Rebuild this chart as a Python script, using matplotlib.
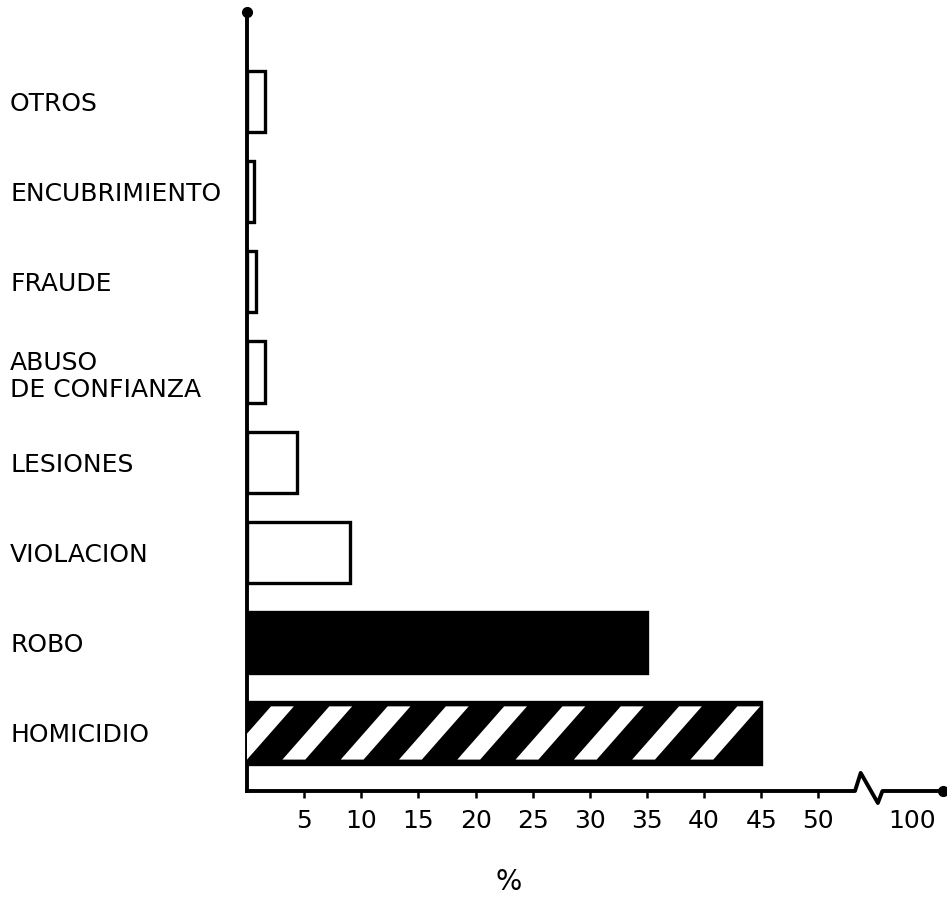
import matplotlib.pyplot as plt
from matplotlib.patches import Polygon

# categories from bottom to top
categories = ["HOMICIDIO", "ROBO", "VIOLACION", "LESIONES",
              "ABUSO\nDE CONFIANZA", "FRAUDE", "ENCUBRIMIENTO", "OTROS"]
percent = [45, 35, 9.0, 4.4, 1.6, 0.8, 0.6, 1.6]
fill = ["striped", "black", "white", "white", "white", "white", "white", "white"]

tick_values = [5, 10, 15, 20, 25, 30, 35, 40, 45, 50]
tick_labels = [str(v) for v in tick_values]
break_label = "100"

plt.rcParams['font.family'] = ['DejaVu Sans']

fig = plt.figure(figsize=(9.47, 8.97), dpi=100)
ax = fig.add_axes([247 / 947, (897 - 791) / 897, 696 / 947, 779 / 897])

xmax = 60.9
ymin, ymax = -0.643, 7.99
ax.set_xlim(0, xmax)
ax.set_ylim(ymin, ymax)

ypos = list(range(len(categories)))
bars = ax.barh(ypos, percent, height=0.68,
               color=["black" if f != "white" else "white" for f in fill],
               edgecolor="black", linewidth=2.4, zorder=2)

# white diagonal stripes on the HOMICIDIO bar, clipped to the bar
for bar, f in zip(bars, fill):
    if f != "striped":
        continue
    x0, y0 = bar.get_x(), bar.get_y()
    w, h = bar.get_width(), bar.get_height()
    inset = 0.045
    yb, yt = y0 + inset, y0 + h - inset
    period, shift, sw = 5.1, 4.1, 2.0
    s = x0 - 2.0
    while s + shift + sw < x0 + w:
        poly = Polygon([(s, yb), (s + sw, yb), (s + sw + shift, yt), (s + shift, yt)],
                       closed=True, facecolor="white", edgecolor="none", zorder=3)
        ax.add_patch(poly)
        poly.set_clip_path(bar)
        s += period

# axes
for side in ["top", "right", "bottom"]:
    ax.spines[side].set_visible(False)
ax.spines["left"].set_linewidth(2.8)
ax.plot(0, ymax, 'o', color="black", ms=7, clip_on=False, zorder=5)

# bottom axis with a break before 100
ax.plot([0, 53.2, 53.7, 55.2, 55.6, xmax],
        [ymin, ymin, ymin + 0.2, ymin - 0.133, ymin, ymin],
        color="black", lw=2.8, clip_on=False, solid_joinstyle="round", zorder=5)
ax.plot(xmax, ymin, 'o', color="black", ms=7, clip_on=False, zorder=5)

ax.set_xticks(tick_values + [58.2], labels=tick_labels + [break_label])
ax.tick_params(axis="x", direction="out", length=5, width=1.8, pad=8, labelsize=18)
ax.xaxis.get_major_ticks()[-1].tick1line.set_visible(False)

ax.set_yticks(ypos, labels=categories)
ax.tick_params(axis="y", length=0, pad=170.6, labelsize=18)
for lbl in ax.get_yticklabels():
    lbl.set_ha("left")
    lbl.set_linespacing(1.2)

ax.set_xlabel("%", fontsize=20, va="center")
ax.xaxis.set_label_coords((509 - 247) / 696, (791 - 882) / 779)

plt.savefig("out.png", dpi=100)
